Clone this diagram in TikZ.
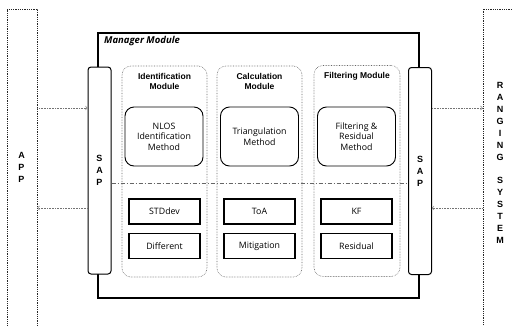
\documentclass[tikz,border=0pt]{standalone}
\usepackage{fontspec}
\setmainfont{Open Sans}
\newfontfamily\headfont{Liberation Sans}
\usepackage{tikz}
\usetikzlibrary{positioning}

\begin{document}
\begin{tikzpicture}[x=1pt, y=-1pt,
        every node/.style = {inner sep=1pt, align=center, font=\fontsize{8.8}{10.5}\selectfont},
        side/.style = {draw=black!85, densely dotted, line width=0.8pt, minimum width=30pt, minimum height=321pt},
        sap/.style = {draw, fill=white, rounded corners=3pt, line width=1pt, minimum width=23pt, minimum height=207pt},
        module/.style = {draw=black!60, densely dotted, line width=0.6pt, rounded corners=9pt, minimum width=85pt, minimum height=211pt},
        method/.style = {draw, rounded corners=9pt, line width=0.9pt, minimum width=78pt, minimum height=59pt},
        unit/.style = {draw, line width=1.6pt, minimum width=71pt, minimum height=25pt},
        title/.style = {font=\headfont\bfseries\fontsize{8.5}{10}\selectfont},
        letters/.style = {font=\headfont\bfseries\fontsize{9}{12}\selectfont},
        splitline/.style = {draw=black!60, line width=0.6pt, dash pattern=on 4pt off 2pt on 1pt off 2pt},
        flow/.style = {draw=black!55, densely dotted, line width=0.6pt}
        ]
        \useasboundingbox (0,0) rectangle (512,325);
        \clip (0,0) rectangle (512,325);
        % outer parties
        \node[side] (app) at (22,169.5) {};
        \node[side, minimum width=34pt] (rng) at (500,169.5) {};
        \node[letters] (apptxt) at (21.5,167) {A\\P\\P};
        \node[letters] (rngtxt) at (500,162.5) {R\\A\\N\\G\\I\\N\\G\\[11pt]S\\Y\\S\\T\\E\\M};
        % manager
        \node[draw, line width=2pt, minimum width=321pt, minimum height=265pt] (mgr) at (258.5,165.5) {};
        \node[font=\bfseries\itshape\fontsize{9.5}{11}\selectfont, below right=3pt and 6pt of mgr.north west] (mgrlbl) {Manager Module};
        \node[sap, letters] (sapL) at (99.5,170.5) {S\\A\\P};
        \node[sap, letters] (sapR) at (420,171) {S\\A\\P};
        % modules
        \node[module] (idm) at (164.5,171.5) {};
        \node[module] (calc) at (259.5,171.5) {};
        \node[module, minimum width=86pt] (filt) at (357,171) {};
        \node[title, below=6pt of idm.north] (idmT) {Identification\\Module};
        \node[title, below=6pt of calc.north] (calcT) {Calculation\\Module};
        \node[title, below=6pt of filt.north] (filtT) {Filtering Module};
        \node[method] (nlos) at (164,136.5) {NLOS\\Identification\\Method};
        \node[method] (tri) at (259.5,136.5) {Triangulation\\Method};
        \node[method] (fres) at (356.5,136.5) {Filtering \&\\Residual\\Method};
        \coordinate (split) at (0,183);
        \draw[splitline] (sapL.east |- split) -- (sapR.west |- split);
        \node[unit] (std) at (164.5,211.5) {STDdev};
        \node[unit, below=8pt of std] (diff) {Different};
        \node[unit] (toa) at (259.5,211.5) {ToA};
        \node[unit, below=8pt of toa] (mit) {Mitigation};
        \node[unit] (kf) at (356.5,211.5) {KF};
        \node[unit, below=8pt of kf] (res) {Residual};
        % links
        \coordinate (upper) at (0,108);
        \coordinate (lower) at (0,208);
        \draw[flow, ->] (app.east |- upper) -- (sapL.west |- upper);
        \draw[flow, ->] (sapL.west |- lower) -- (app.east |- lower);
        \draw[flow, ->] (sapR.east |- upper) -- (rng.west |- upper);
        \draw[flow, ->] (rng.west |- lower) -- (sapR.east |- lower);
\end{tikzpicture}
\end{document}
